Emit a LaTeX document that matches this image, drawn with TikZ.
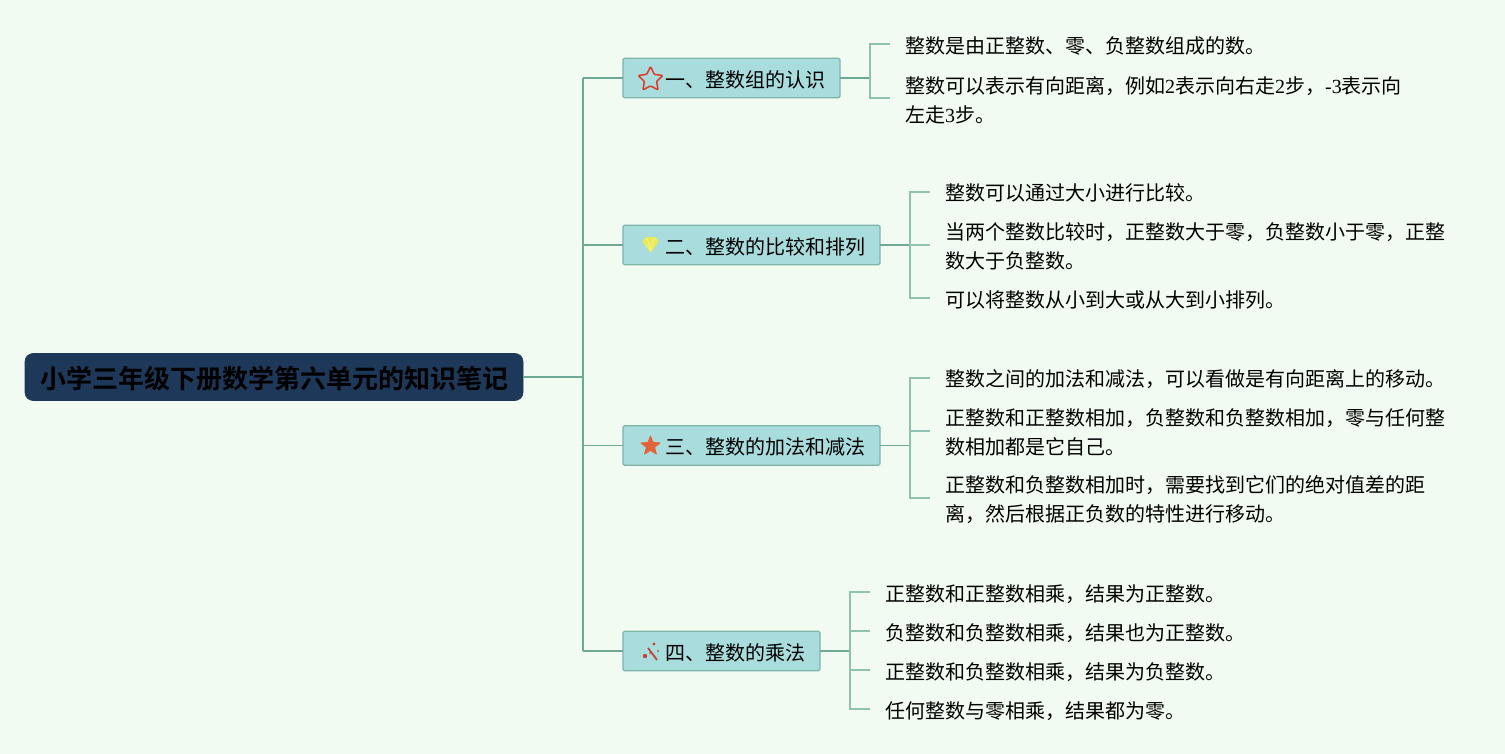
\documentclass[tikz,border=0pt]{standalone}
\usepackage{fontspec}
\usetikzlibrary{shapes.geometric}
\setmainfont{Liberation Serif}
\newfontfamily\cjk{Noto Sans CJK SC}
\newfontfamily\cjkb{Noto Sans CJK SC Bold}
\definecolor{bgc}{HTML}{F2FBF1}
\definecolor{boxf}{HTML}{A8DCDD}
\definecolor{boxd}{HTML}{7FB5A8}
\definecolor{lnc}{HTML}{6FA897}
\definecolor{lnl}{HTML}{8FC2AF}
\definecolor{rootc}{HTML}{1E3859}
\definecolor{staro}{HTML}{E0392B}
\definecolor{starf}{HTML}{E2623A}
\definecolor{gem}{HTML}{EAEA55}
\definecolor{wand}{HTML}{C2453A}
\tikzset{
  x=1pt,y=-1pt,
  rootbox/.style={draw=rootc,fill=rootc,rounded corners=8pt,line width=.6pt,minimum width=498pt,minimum height=47pt,inner sep=0pt,text=black},
  roottext/.style={inner sep=0pt,font=\cjkb\fontsize{26}{30}\selectfont,text=black},
  topic/.style={draw=boxd,fill=boxf,rounded corners=1.5pt,line width=1.2pt,minimum height=39.5pt,inner sep=0pt,outer sep=0pt,anchor=west},
  topictext/.style={anchor=west,inner sep=0pt,font=\cjk\fontsize{20}{24}\selectfont,text=black},
  leaf/.style={anchor=west,inner sep=0pt,font=\cjk\fontsize{20}{29}\selectfont,text=black,align=left},
  trunk/.style={draw=lnc,line width=1.6pt},
  branch/.style={draw=lnc,line width=1.2pt},
  twig/.style={draw=lnl,line width=1.2pt},
}
\begin{document}
\begin{tikzpicture}
\useasboundingbox (0,0) rectangle (1505,754);
\fill[bgc] (0,0) rectangle (1505,754);
% coordinates
\coordinate (B) at (583,377);
\coordinate (B1) at (583,78);
\coordinate (B2) at (583,245);
\coordinate (B3) at (583,445.5);
\coordinate (B4) at (583,651);
% root + topics
\node[rootbox] (root) at (274,377) {};
\node[roottext] (roott) at (274,378.5) {小学三年级下册数学第六单元的知识笔记};
\node[topic,minimum width=217pt] (t1) at (623,78) {};
\node[topic,minimum width=257pt] (t2) at (623,245) {};
\node[topic,minimum width=257pt] (t3) at (623,445.5) {};
\node[topic,minimum width=197pt] (t4) at (623,651) {};
\node[topictext] (t1t) at (665,79.5) {一、整数组的认识};
\node[topictext] (t2t) at (665,246.5) {二、整数的比较和排列};
\node[topictext] (t3t) at (665,447) {三、整数的加法和减法};
\node[topictext] (t4t) at (665,652.5) {四、整数的乘法};
% leaves
\node[leaf] (a1) at (905,46) {整数是由正整数、零、负整数组成的数。};
\node[leaf] (a2) at (905,100) {整数可以表示有向距离，例如{\rmfamily 2}表示向右走{\rmfamily 2}步，{\rmfamily -3}表示向\\左走{\rmfamily 3}步。};
\node[leaf] (b1) at (945,193) {整数可以通过大小进行比较。};
\node[leaf] (b2) at (945,246.5) {当两个整数比较时，正整数大于零，负整数小于零，正整\\数大于负整数。};
\node[leaf] (b3) at (945,300) {可以将整数从小到大或从大到小排列。};
\node[leaf] (c1) at (945,379) {整数之间的加法和减法，可以看做是有向距离上的移动。};
\node[leaf] (c2) at (945,432.5) {正整数和正整数相加，负整数和负整数相加，零与任何整\\数相加都是它自己。};
\node[leaf] (c3) at (945,500) {正整数和负整数相加时，需要找到它们的绝对值差的距\\离，然后根据正负数的特性进行移动。};
\node[leaf] (d1) at (885,594) {正整数和正整数相乘，结果为正整数。};
\node[leaf] (d2) at (885,633) {负整数和负整数相乘，结果也为正整数。};
\node[leaf] (d3) at (885,672) {正整数和负整数相乘，结果为负整数。};
\node[leaf] (d4) at (885,711) {任何整数与零相乘，结果都为零。};
% connectors
\draw[trunk] (root.east) -- (B);
\draw[branch] (B1) -- (B4);
\draw[branch] (B1) -- (t1.west);
\draw[branch] (B2) -- (t2.west);
\draw[branch] (B3) -- (t3.west);
\draw[branch] (B4) -- (t4.west);
\coordinate (J1) at (870,78);
\coordinate (J2) at (910,245);
\coordinate (J3) at (910,445.5);
\coordinate (J4) at (850,651);
\draw[branch] (t1.east) -- (J1);
\draw[trunk] (t2.east) -- (J2);
\draw[branch] (t3.east) -- (J3);
\draw[trunk] (t4.east) -- (J4);
\coordinate (a1s) at (890,44); \coordinate (a2s) at (890,98);
\coordinate (b1s) at (930,192); \coordinate (b2s) at (930,245); \coordinate (b3s) at (930,298);
\coordinate (c1s) at (930,378); \coordinate (c2s) at (930,431); \coordinate (c3s) at (930,498);
\coordinate (d1s) at (870,592); \coordinate (d2s) at (870,631); \coordinate (d3s) at (870,670); \coordinate (d4s) at (870,709);
\draw[twig] (a1s) -- (870,44) -- (870,98) -- (a2s);
\draw[twig] (b1s) -- (910,192) -- (910,298) -- (b3s);
\draw[twig] (J2) -- (b2s);
\draw[twig] (c1s) -- (910,378) -- (910,498) -- (c3s);
\draw[twig] (910,431) -- (c2s);
\draw[twig] (d1s) -- (850,592) -- (850,709) -- (d4s);
\draw[twig] (850,631) -- (d2s);
\draw[twig] (850,670) -- (d3s);
% icons
\node[star,star points=5,star point ratio=2.05,draw=staro,fill=none,line width=1.5pt,line join=round,rounded corners=1pt,minimum size=26pt,inner sep=0pt] at (650.5,79.5) {};
\fill[gem,rounded corners=1pt] (642,241) -- (646,237) -- (655,237) -- (659,241) -- (650.5,253) -- cycle;
\draw[white!45!gem,line width=.7pt] (646,238) -- (648.5,242) -- (650.5,251) -- (652.5,242) -- (655,238);
\node[star,star points=5,star point ratio=2.3,fill=starf,draw=starf,line width=.8pt,line join=round,minimum size=20pt,inner sep=0pt] at (650.5,446) {};
\draw[wand,line width=1.8pt] (648,648) -- (657,660);
\fill[wand] (645,656) circle (2.2pt) (654,644) circle (1.7pt) (658,651) circle (1pt) (650,653) circle (.8pt);
\end{tikzpicture}
\end{document}
